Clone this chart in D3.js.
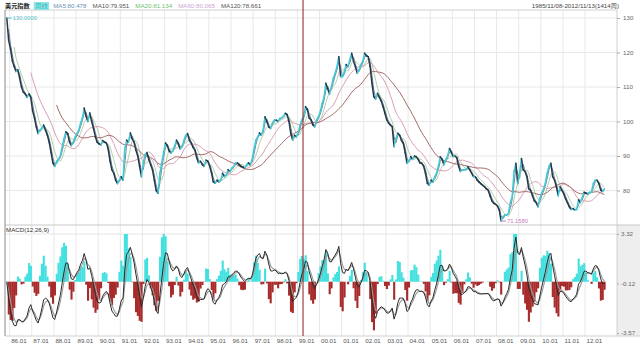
<!DOCTYPE html>
<meta charset="utf-8">
<style>
body { margin: 0; background: #fff; }
svg { display: block; }
text { font-family: "Liberation Sans", Arial, "Noto Sans CJK SC", sans-serif; font-size: 6.2px; }
</style>
<body>
<script src="https://cdn.jsdelivr.net/npm/d3@7/dist/d3.min.js"></script>
<script>

// monthly closes of the dollar index, Nov 1985 .. Nov 2012
var close1985_89 = [
  130.0, 123.5,
  121, 117.5, 116, 114.5, 115, 112.5, 110, 108.5, 108, 107, 108, 107,
  103, 101, 98.5, 96.5, 97.5, 98, 99, 97.5, 96, 94, 91, 88,
  87, 88.5, 89, 90, 92.5, 95, 97, 96.5, 94, 93, 94, 95.5,
  96.5, 97.5, 99.5, 101, 103.9, 101.5, 100, 102.5, 100, 98, 95.6, 94
];
var close1990s = [
  93.5, 93.2, 94.5, 94, 93.8, 92, 88.5, 86, 85, 83, 82, 83,
  84, 83, 92, 94.6, 94, 96.7, 95, 94, 91.7, 90, 87, 84,
  88, 90.5, 91, 89, 87.5, 86, 83, 80, 79.2, 85, 88, 91,
  93.8, 93, 91.5, 90.9, 91.5, 93, 94.6, 93.5, 92, 92.7, 94.5, 96,
  96.5, 94.5, 93.8, 92.5, 91.7, 89.5, 88, 88.5, 87.5, 87, 88.8, 88.5,
  87, 85, 82.5, 82.1, 83, 82.5, 83, 85, 84, 84.5, 86, 85.5,
  86.5, 87, 88, 88, 87.5, 87, 86.8, 86.5, 87.5, 88, 87.5, 89,
  92, 94.6, 95.5, 96.7, 96, 97.5, 101.4, 100, 98.5, 98, 99.5, 100.4,
  100.4, 100, 100.9, 101, 101.5, 102.4, 102, 100, 96.5, 94.6, 96, 95.6,
  96.7, 99, 100.4, 101.5, 104.3, 103.5, 101, 100.4, 99, 98.5, 100.5, 101.4
];
var close2000s = [
  103, 105.3, 107, 111.1, 109.5, 108, 110.1, 112.5, 114, 115.9, 118.8, 113,
  113, 114.5, 116.5, 115.9, 118, 119.8, 117.5, 115.9, 114, 114.9, 116.5, 117.5,
  119.8, 119, 118.8, 116, 111.1, 107.2, 106.5, 108.2, 107, 106, 104.3, 102.4,
  100.5, 99.5, 99, 98.5, 92.7, 95, 96.6, 96, 94.5, 93.7, 91, 87.9,
  88.5, 89.8, 89, 90, 89.8, 89, 88, 87.9, 87, 85, 82.1, 81.5,
  83, 82.5, 84, 85, 87, 89.8, 89, 87.5, 89, 90, 92.2, 91,
  89.8, 90, 89.5, 87, 85.5, 86, 86, 86, 86.9, 86, 85, 84,
  84, 83, 82.5, 82, 81.5, 81.1, 80.5, 80.1, 78.5, 77, 76.3, 76,
  75.5, 74.3, 71.158, 72.4, 72.9, 72.9, 73.4, 76.5, 78.2, 85.5, 87.9, 82,
  85, 89.3, 86, 85.5, 84, 80.5, 80.1, 78.5, 77, 76.5, 75.3, 77.8
];
var close2010s = [
  79.2, 80.5, 82, 85, 87, 87.9, 84, 83, 81, 78.5, 81.1, 80,
  79, 77.5, 76.5, 75.3, 74.5, 74.8, 74.3, 74.5, 77.3, 76.5, 78, 79.5,
  79.2, 79, 79.5, 79.5, 82, 83, 83, 82, 80.1, 79.7, 80.5
];

var priceTicks = [80, 90, 100, 110, 120, 130];
var macdTicks = [3.32, -0.12, -3.57];
var maNames = ["MA5", "MA10", "MA20", "MA60", "MA120"];
var maWeeks = [5, 10, 20, 60, 120];
var maLast = [80.478, 79.951, 81.134, 80.065, 78.661];
var macdWeeks = [12, 26, 9];
var titleText = "美元指数", periodText = "周线";
var rangeText = "1985/11/08-2012/11/13(1414周)";
var firstDay = "1985-11-08", lastDay = "2012-11-13", cursorDay = "1999-04-04";

// styles
var upColor = "#3fc9d6", downColor = "#24384a";
var maText = ["#6b8fb0", "#555", "#6cbf6c", "#cf9fd6", "#555"];
var maLine = [null, "#6d8799", "#b5cfae", "#d9a0b4", "#a26a66"];
var gridColor = "#e8e8e8";
var histBoost = 2; // bars are drawn on their own, taller scale

var width = 640, height = 346;
var left = 5, right = 617, mainTop = 10, mainBottom = 225, macdBottom = 336;
var weeksPerMonth = 52.18 / 12;

var svg = d3.select("body").append("svg")
    .attr("width", width)
    .attr("height", height);

var parse = d3.timeParse("%Y-%m-%d");
var closes = close1985_89.concat(close1990s, close2000s, close2010s);
var dates = closes.map(function(d, i) { return new Date(1985, 10 + i, 15); });

var x = d3.scaleTime()
    .domain([parse(firstDay), parse(lastDay)])
    .range([6.4, 604.3]);
var y = d3.scaleLinear().domain([80, 120]).range([190.5, 52.5]);
var yM = d3.scaleLinear().domain([-3.57, 3.32]).range([333, 234]);
var yH = d3.scaleLinear().domain(yM.domain().map(function(d) { return d / histBoost; })).range(yM.range());

var years = d3.timeYear.range(new Date(1986, 0, 1), new Date(2013, 0, 1));

// clip paths
var defs = svg.append("defs");
defs.append("clipPath").attr("id", "clipMain").append("rect")
    .attr("x", left).attr("y", mainTop).attr("width", right - left).attr("height", mainBottom - mainTop);
defs.append("clipPath").attr("id", "clipMacd").append("rect")
    .attr("x", left).attr("y", 234).attr("width", right - left).attr("height", 100);

// MACD axis background
svg.append("rect").attr("x", right).attr("y", mainBottom).attr("width", width - right)
    .attr("height", macdBottom - mainBottom).attr("fill", "#eeeeee");

// grid
svg.append("g").selectAll("line").data(years).join("line")
    .attr("x1", function(d) { return x(d); }).attr("x2", function(d) { return x(d); })
    .attr("y1", mainTop).attr("y2", macdBottom)
    .attr("stroke", gridColor);
svg.append("g").selectAll("line").data(priceTicks).join("line")
    .attr("x1", left).attr("x2", right)
    .attr("y1", function(d) { return y(d); }).attr("y2", function(d) { return y(d); })
    .attr("stroke", gridColor);

// frame
svg.append("line").attr("x1", left).attr("x2", right).attr("y1", mainTop).attr("y2", mainTop).attr("stroke", "#d0d0d0");
svg.append("line").attr("x1", left).attr("x2", width).attr("y1", mainBottom).attr("y2", mainBottom).attr("stroke", "#c8c8c8");
svg.append("line").attr("x1", left).attr("x2", right).attr("y1", 234).attr("y2", 234).attr("stroke", "#e4e4e4");
svg.append("line").attr("x1", left).attr("x2", width).attr("y1", macdBottom).attr("y2", macdBottom).attr("stroke", "#d0d0d0");
svg.append("line").attr("x1", left).attr("x2", left).attr("y1", mainTop).attr("y2", macdBottom).attr("stroke", "#8a8a8a");
svg.append("line").attr("x1", right).attr("x2", right).attr("y1", mainTop).attr("y2", macdBottom).attr("stroke", "#d0d0d0");

// moving averages
function sma(arr, n) {
  return arr.map(function(v, i) { return i < n - 1 ? null : d3.mean(arr.slice(i - n + 1, i + 1)); });
}
function ema(arr, n) {
  var a = 2 / (n + 1), out = [];
  arr.forEach(function(v, i) { out.push(i ? a * v + (1 - a) * out[i - 1] : v); });
  return out;
}

var main = svg.append("g").attr("clip-path", "url(#clipMain)");
var line = d3.line()
    .defined(function(d) { return d[1] != null; })
    .x(function(d) { return x(d[0]); })
    .y(function(d) { return y(d[1]); });

maWeeks.forEach(function(w, k) {
  if (!maLine[k]) return;
  var n = Math.max(1, Math.round(w / weeksPerMonth));
  var ma = sma(closes, n);
  main.append("path")
      .datum(dates.map(function(d, i) { return [d, ma[i]]; }))
      .attr("fill", "none")
      .attr("stroke", maLine[k])
      .attr("stroke-width", 1)
      .attr("d", line);
});

// price, coloured by direction
main.append("g").selectAll("line").data(d3.pairs(d3.range(closes.length))).join("line")
    .attr("x1", function(d) { return x(dates[d[0]]); })
    .attr("y1", function(d) { return y(closes[d[0]]); })
    .attr("x2", function(d) { return x(dates[d[1]]); })
    .attr("y2", function(d) { return y(closes[d[1]]); })
    .attr("stroke", function(d) { return closes[d[1]] >= closes[d[0]] ? upColor : downColor; })
    .attr("stroke-width", 1.5)
    .attr("stroke-linecap", "round");

// max / min markers
var iMax = d3.maxIndex(closes), iMin = d3.minIndex(closes);
[[iMax, "#4cc3cc"], [iMin, "#c77cc0"]].forEach(function(m) {
  var px = x(dates[m[0]]), py = y(closes[m[0]]);
  svg.append("line").attr("x1", px).attr("x2", px + 5).attr("y1", py).attr("y2", py).attr("stroke", m[1]);
  svg.append("text").attr("x", px + 6).attr("y", py + 2.2).attr("fill", m[1])
      .style("font-size", "5.8px").text(closes[m[0]].toFixed(4));
});

// price axis
svg.append("g").attr("transform", "translate(" + right + ",0)")
    .call(d3.axisRight(y).tickValues(priceTicks).tickSize(3).tickPadding(3).tickFormat(d3.format("d")))
    .call(function(g) { g.select(".domain").remove(); })
    .call(function(g) { g.selectAll("line").attr("stroke", "#aaa"); })
    .call(function(g) { g.selectAll("text").attr("fill", "#666").style("font-size", "6.2px"); });

// MACD
var nFast = 1 + (macdWeeks[0] - 1) / weeksPerMonth;
var nSlow = 1 + (macdWeeks[1] - 1) / weeksPerMonth;
var nSig = 1 + (macdWeeks[2] - 1) / weeksPerMonth;
var emaFast = ema(closes, nFast), emaSlow = ema(closes, nSlow);
var dif = closes.map(function(d, i) { return emaFast[i] - emaSlow[i]; });
var dea = ema(dif, nSig);
var hist = dif.map(function(d, i) { return 2 * (d - dea[i]); });

var macd = svg.append("g").attr("clip-path", "url(#clipMacd)");
var barW = x(dates[1]) - x(dates[0]);
macd.append("g").selectAll("rect").data(hist).join("rect")
    .attr("x", function(d, i) { return x(dates[i]) - barW / 2; })
    .attr("width", barW + 0.3)
    .attr("y", function(d) { return yH(Math.max(0, d)); })
    .attr("height", function(d) { return Math.abs(yH(d) - yH(0)); })
    .attr("fill", function(d) { return d >= 0 ? "#43e0e0" : "#a82b2b"; });

var mline = d3.line()
    .x(function(d, i) { return x(dates[i]); })
    .y(function(d) { return yM(d); });
macd.append("path").datum(dea).attr("fill", "none").attr("stroke", "#9a9a9a").attr("stroke-width", 1.1).attr("d", mline);
macd.append("path").datum(dif).attr("fill", "none").attr("stroke", "#2a2a2a").attr("stroke-width", 1).attr("d", mline);

svg.append("g").attr("transform", "translate(" + right + ",0)")
    .call(d3.axisRight(yM).tickValues(macdTicks).tickSize(2).tickPadding(2)
      .tickFormat(function(d) { return d.toFixed(2); }))
    .call(function(g) { g.select(".domain").remove(); })
    .call(function(g) { g.selectAll("line").attr("stroke", "#aaa"); })
    .call(function(g) { g.selectAll("text").attr("fill", "#666").style("font-size", "6.2px"); });

svg.append("text").attr("x", left + 1).attr("y", 232).attr("fill", "#333").text("MACD(" + macdWeeks.join(",") + ")");

// cursor
var cx = x(parse(cursorDay));
svg.append("line").attr("x1", cx).attr("x2", cx).attr("y1", mainTop - 10).attr("y2", macdBottom)
    .attr("stroke", "#8b1c1c").attr("stroke-width", 1);

// time axis
svg.append("g").attr("transform", "translate(0," + macdBottom + ")")
    .call(d3.axisBottom(x).tickValues(years).tickSize(0).tickPadding(3).tickFormat(d3.timeFormat("%y.%m")))
    .call(function(g) { g.select(".domain").remove(); })
    .call(function(g) {
      g.selectAll("text").attr("text-anchor", "start").attr("dx", 1)
          .attr("fill", "#555").style("font-size", "6.2px");
    });

// legend
var legend = svg.append("g").attr("transform", "translate(0,8)");
var lx = left;
var t0 = legend.append("text").attr("x", lx).attr("fill", "#222").style("font-weight", "bold").text(titleText);
lx += t0.node().getComputedTextLength() + 4;
var badge = legend.append("g");
var bt = badge.append("text").attr("x", lx + 1.5).attr("fill", "#2fb5b5").text(periodText);
var bw = bt.node().getComputedTextLength() + 3;
badge.insert("rect", "text").attr("x", lx).attr("y", -6).attr("width", bw).attr("height", 8).attr("fill", "#8fe6e6");
lx += bw + 4;
maNames.forEach(function(n, k) {
  var t = legend.append("text").attr("x", lx).attr("fill", maText[k]).text(n + ":" + maLast[k].toFixed(3));
  lx += t.node().getComputedTextLength() + 6;
});
legend.append("text").attr("x", right + 2).attr("text-anchor", "end").attr("fill", "#444").text(rangeText);

</script>
</body>
